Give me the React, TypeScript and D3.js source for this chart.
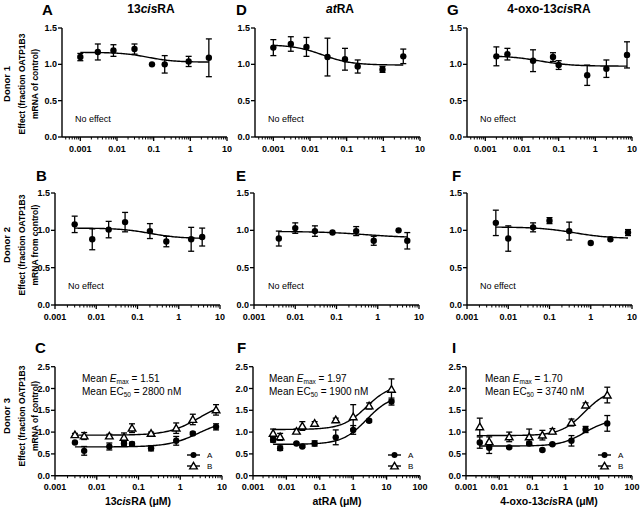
import React from 'react';
import * as d3 from 'd3';

const FONT = '"Liberation Sans", Arial, Helvetica, sans-serif';

// ---------------- Tick labels ----------------
const yTicksLow = ['0.0', '0.5', '1.0', '1.5'];
const yTicksHigh = ['0.0', '0.5', '1.0', '1.5', '2.0', '2.5'];
const xTicks10 = ['0.001', '0.01', '0.1', '1', '10'];
const xTicks100 = ['0.001', '0.01', '0.1', '1', '10', '100'];

// ---------------- Donor 1 ----------------
const aConc = [0.001, 0.003, 0.008, 0.03, 0.09, 0.2, 0.9, 3.2];
const aEffect = [1.1, 1.17, 1.19, 1.21, 1.0, 1.0, 1.04, 1.09];
const aSem = [0.05, 0.11, 0.08, 0.07, 0, 0.12, 0.07, 0.26];
const aFit = [1.165, 1.03, 0.07, 1.2]; // start, end, EC50, hill

const dConc = [0.001, 0.003, 0.008, 0.03, 0.09, 0.2, 0.95, 3.5];
const dEffect = [1.23, 1.28, 1.24, 1.1, 1.07, 0.97, 0.93, 1.11];
const dSem = [0.11, 0.1, 0.13, 0.26, 0.15, 0.09, 0.04, 0.1];
const dFit = [1.27, 0.99, 0.022, 1.1];

const gConc = [0.002, 0.004, 0.02, 0.07, 0.1, 0.6, 2, 7.3];
const gEffect = [1.11, 1.14, 1.05, 1.1, 0.99, 0.85, 0.94, 1.13];
const gSem = [0.13, 0.08, 0.15, 0.06, 0.06, 0.14, 0.12, 0.18];
const gFit = [1.12, 0.975, 0.03, 1];

// ---------------- Donor 2 ----------------
const bConc = [0.003, 0.008, 0.02, 0.05, 0.2, 0.5, 2, 3.7];
const bEffect = [1.08, 0.88, 1.01, 1.11, 0.99, 0.85, 0.88, 0.91];
const bSem = [0.11, 0.14, 0.11, 0.13, 0.1, 0.07, 0.16, 0.12];
const bFit = [1.03, 0.89, 0.2, 1.2];

const eConc = [0.004, 0.01, 0.03, 0.08, 0.3, 0.8, 3.2, 5.2];
const eEffect = [0.89, 1.03, 0.99, 0.97, 0.99, 0.86, 1.0, 0.86];
const eSem = [0.1, 0.07, 0.07, 0, 0.06, 0.06, 0, 0.11];
const eFit = [0.985, 0.9, 0.5, 0.8];

const hConc = [0.005, 0.01, 0.04, 0.1, 0.3, 1, 3, 8];
const hEffect = [1.1, 0.89, 1.04, 1.13, 0.99, 0.83, 0.88, 0.97];
const hSem = [0.17, 0.17, 0.06, 0.04, 0.12, 0, 0, 0.04];
const hFit = [1.045, 0.89, 0.4, 1];

// ---------------- Donor 3 ----------------
const cConc = [0.003, 0.005, 0.02, 0.045, 0.07, 0.2, 0.8, 2, 7.2];
const cEffectA = [0.76, 0.57, 0.67, 0.74, 0.73, 0.63, 0.8, 0.97, 1.12];
const cSemA = [0, 0.1, 0.08, 0.04, 0.04, 0.06, 0.1, 0.03, 0.07];
const cEffectB = [0.94, 0.91, 0.91, 0.88, 1.09, 0.97, 1.09, 1.29, 1.51];
const cSemB = [0.03, 0.08, 0.04, 0.1, 0.1, 0.03, 0.12, 0.12, 0.12];
const cFitA = [0.66, 1.3, 2.8, 1.2];
const cFitB = [0.93, 1.72, 2.8, 1.2];

const fConc = [0.004, 0.0065, 0.02, 0.03, 0.07, 0.3, 1, 3, 14];
const fEffectA = [0.82, 0.63, 0.74, 0.67, 0.74, 0.88, 1.05, 1.26, 1.7];
const fSemA = [0.05, 0.05, 0.02, 0.02, 0.06, 0.17, 0.1, 0.03, 0.08];
const fEffectB = [0.97, 0.89, 1.02, 1.14, 1.2, 1.28, 1.35, 1.6, 1.98];
const fSemB = [0.1, 0.08, 0.05, 0.1, 0.04, 0.04, 0.28, 0.07, 0.24];
const fFitA = [0.72, 1.85, 2.5, 1.2];
const fFitB = [1.06, 2.1, 2.5, 1.2];

const iConc = [0.0026, 0.005, 0.02, 0.08, 0.2, 0.4, 1.5, 4, 18];
const iEffectA = [0.76, 0.64, 0.65, 0.74, 0.59, 0.72, 0.8, 1.06, 1.2];
const iSemA = [0.13, 0.13, 0.02, 0.03, 0.02, 0.02, 0.12, 0.07, 0.18];
const iEffectB = [1.12, 0.78, 0.89, 0.89, 0.93, 1.02, 1.22, 1.62, 1.85];
const iSemB = [0.2, 0.11, 0.11, 0.18, 0.11, 0.06, 0.08, 0.05, 0.18];
const iFitA = [0.68, 1.3, 3.74, 1.2];
const iFitB = [0.92, 2.0, 3.74, 1.2];

const statsC = ['1.51', '2800'];
const statsF = ['1.97', '1900'];
const statsI = ['1.70', '3740'];

function hill(fit: number[], x: number) {
  const [y0, y1, ec, h] = fit;
  return y0 + (y1 - y0) / (1 + Math.pow(ec / x, h));
}

type Series = { conc: number[]; eff: number[]; sem: number[]; fit: number[]; marker: 'circle' | 'triangle' };

type PanelProps = {
  left: number; right: number; top: number; bottom: number;
  xMin: number; xMax: number; yMax: number;
  xLabels: string[]; yLabels: string[];
  series: Series[];
};

const TRI_SIZE = 25;

function Panel(p: PanelProps) {
  const x = d3.scaleLog().domain([p.xMin, p.xMax]).range([p.left, p.right]);
  const y = d3.scaleLinear().domain([0, p.yMax]).range([p.bottom, p.top]);
  const eMin = Math.floor(Math.log10(p.xMin));
  const eMax = Math.ceil(Math.log10(p.xMax));
  const minors: number[] = [];
  for (let e = eMin; e < eMax; e++) {
    for (let m = 2; m <= 9; m++) {
      const v = m * Math.pow(10, e);
      if (v >= p.xMin * 0.999 && v <= p.xMax * 1.001) minors.push(v);
    }
  }
  const majors = p.xLabels.map((t) => +t);
  const yVals = p.yLabels.map((t) => +t);
  const line = d3.line<[number, number]>().x((d) => x(d[0])).y((d) => y(d[1]));
  const tri = d3.symbol().type(d3.symbolTriangle).size(TRI_SIZE)();
  return (
    <g>
      <line x1={p.left} x2={p.right} y1={p.bottom} y2={p.bottom} stroke="#000" strokeWidth={1.4} />
      <line x1={p.left} x2={p.left} y1={p.top} y2={p.bottom} stroke="#000" strokeWidth={1.4} />
      {yVals.map((v, i) => (
        <g key={'y' + i}>
          <line x1={p.left - 4} x2={p.left} y1={y(v)} y2={y(v)} stroke="#000" strokeWidth={1.3} />
          <text x={p.left - 5} y={y(v)} dy="0.35em" textAnchor="end" fontSize={9} fontWeight="bold">{p.yLabels[i]}</text>
        </g>
      ))}
      {minors.map((v, i) => (
        <line key={'m' + i} x1={x(v)} x2={x(v)} y1={p.bottom} y2={p.bottom + 2.5} stroke="#000" strokeWidth={1} />
      ))}
      {majors.map((v, i) => (
        <g key={'x' + i}>
          <line x1={x(v)} x2={x(v)} y1={p.bottom} y2={p.bottom + 4} stroke="#000" strokeWidth={1.3} />
          <text x={x(v)} y={p.bottom + 14.5} textAnchor="middle" fontSize={9} fontWeight="bold">{p.xLabels[i]}</text>
        </g>
      ))}
      {p.series.map((s, si) => {
        const lo = s.conc[0];
        const hi = s.conc[s.conc.length - 1];
        const pts: [number, number][] = d3.range(0, 101).map((k) => {
          const xv = lo * Math.pow(hi / lo, k / 100);
          return [xv, hill(s.fit, xv)];
        });
        return (
          <g key={'s' + si}>
            <path d={line(pts) || ''} fill="none" stroke="#000" strokeWidth={1.4} />
            {s.conc.map((c, i) =>
              s.sem[i] > 0 ? (
                <g key={'e' + i} stroke="#000" strokeWidth={1.3}>
                  <line x1={x(c)} x2={x(c)} y1={y(s.eff[i] - s.sem[i])} y2={y(s.eff[i] + s.sem[i])} />
                  <line x1={x(c) - 3} x2={x(c) + 3} y1={y(s.eff[i] - s.sem[i])} y2={y(s.eff[i] - s.sem[i])} />
                  <line x1={x(c) - 3} x2={x(c) + 3} y1={y(s.eff[i] + s.sem[i])} y2={y(s.eff[i] + s.sem[i])} />
                </g>
              ) : null
            )}
            {s.conc.map((c, i) =>
              s.marker === 'circle' ? (
                <circle key={'p' + i} cx={x(c)} cy={y(s.eff[i])} r={3.2} fill="#000" />
              ) : (
                <path key={'p' + i} d={tri || ''} transform={`translate(${x(c)},${y(s.eff[i]) + 0.7})`} fill="#fff" stroke="#000" strokeWidth={1.4} />
              )
            )}
          </g>
        );
      })}
    </g>
  );
}

function YTitle({ cy, donor, second }: { cy: number; donor: string; second: string }) {
  return (
    <g fontWeight="bold">
      <text transform={`translate(10,${cy}) rotate(-90)`} textAnchor="middle" fontSize={9.5}>{donor}</text>
      <text transform={`translate(25,${cy}) rotate(-90)`} textAnchor="middle" fontSize={8.5}>Effect (fraction OATP1B3</text>
      <text transform={`translate(37.5,${cy}) rotate(-90)`} textAnchor="middle" fontSize={8.5}>{second}</text>
    </g>
  );
}

function Stats({ x, y, vals }: { x: number; y: number; vals: string[] }) {
  return (
    <g fontSize={10}>
      <text x={x} y={y}>
        Mean <tspan fontStyle="italic">E</tspan>
        <tspan fontSize={6.5} dy={2}>max</tspan>
        <tspan dy={-2}> = {vals[0]}</tspan>
      </text>
      <text x={x} y={y + 12.5}>
        Mean EC<tspan fontSize={6.5} dy={2}>50</tspan>
        <tspan dy={-2}> = {vals[1]} nM</tspan>
      </text>
    </g>
  );
}

function Legend({ x, y }: { x: number; y: number }) {
  const tri = d3.symbol().type(d3.symbolTriangle).size(TRI_SIZE)();
  return (
    <g>
      <line x1={x} x2={x + 13} y1={y} y2={y} stroke="#000" strokeWidth={1.4} />
      <circle cx={x + 6.5} cy={y} r={3} fill="#000" />
      <text x={x + 20} y={y} dy="0.35em" fontSize={8}>A</text>
      <line x1={x} x2={x + 13} y1={y + 11} y2={y + 11} stroke="#000" strokeWidth={1.4} />
      <path d={tri || ''} transform={`translate(${x + 6.5},${y + 11.7})`} fill="#fff" stroke="#000" strokeWidth={1.4} />
      <text x={x + 20} y={y + 11} dy="0.35em" fontSize={8}>B</text>
    </g>
  );
}

const Letter = ({ x, y, t }: { x: number; y: number; t: string }) => (
  <text x={x} y={y} fontSize={15} fontWeight="bold">{t}</text>
);

export default function App() {
  const r1 = { top: 28, bottom: 137, yMax: 1.5, yLabels: yTicksLow, xMin: Math.pow(10, -3.5), xMax: 10, xLabels: xTicks10 };
  const r2 = { top: 193, bottom: 305, yMax: 1.5, yLabels: yTicksLow, xMin: 0.001, xMax: 10, xLabels: xTicks10 };
  const r3 = { top: 366.7, bottom: 475.7, yMax: 2.5, yLabels: yTicksHigh };
  const one = (conc: number[], eff: number[], sem: number[], fit: number[]): Series[] => [
    { conc, eff, sem, fit, marker: 'circle' },
  ];
  const two = (conc: number[], ea: number[], sa: number[], fa: number[], eb: number[], sb: number[], fb: number[]): Series[] => [
    { conc, eff: ea, sem: sa, fit: fa, marker: 'circle' },
    { conc, eff: eb, sem: sb, fit: fb, marker: 'triangle' },
  ];
  return (
    <svg width={640} height={508} style={{ position: 'absolute', left: 0, top: 0, background: '#fff' }} fontFamily={FONT}>
      <rect width={640} height={508} fill="#fff" />
      <text x={151} y={12.5} textAnchor="middle" fontSize={12} fontWeight="bold">13<tspan fontStyle="italic">cis</tspan>RA</text>
      <text x={340} y={12.5} textAnchor="middle" fontSize={12} fontWeight="bold"><tspan fontStyle="italic">at</tspan>RA</text>
      <text x={549} y={12.5} textAnchor="middle" fontSize={12} fontWeight="bold">4-oxo-13<tspan fontStyle="italic">cis</tspan>RA</text>

      <Letter x={42} y={14.5} t="A" />
      <Letter x={236} y={14.5} t="D" />
      <Letter x={447} y={14.5} t="G" />
      <Letter x={36} y={181} t="B" />
      <Letter x={236} y={181} t="E" />
      <Letter x={452} y={181} t="F" />
      <Letter x={35} y={353} t="C" />
      <Letter x={237} y={353} t="F" />
      <Letter x={452} y={353} t="I" />

      <YTitle cy={84} donor="Donor 1" second="mRNA of control)" />
      <YTitle cy={245} donor="Donor 2" second="mRNA from control)" />
      <YTitle cy={416} donor="Donor 3" second="mRNA of control)" />

      <Panel {...r1} left={62} right={227} series={one(aConc, aEffect, aSem, aFit)} />
      <Panel {...r1} left={255} right={420} series={one(dConc, dEffect, dSem, dFit)} />
      <Panel {...r1} left={467} right={632} series={one(gConc, gEffect, gSem, gFit)} />

      <Panel {...r2} left={55} right={220} series={one(bConc, bEffect, bSem, bFit)} />
      <Panel {...r2} left={254} right={419} series={one(eConc, eEffect, eSem, eFit)} />
      <Panel {...r2} left={467} right={632} series={one(hConc, hEffect, hSem, hFit)} />

      <Panel {...r3} left={55} right={222} xMin={0.001} xMax={10} xLabels={xTicks10}
        series={two(cConc, cEffectA, cSemA, cFitA, cEffectB, cSemB, cFitB)} />
      <Panel {...r3} left={253} right={420} xMin={0.001} xMax={100} xLabels={xTicks100}
        series={two(fConc, fEffectA, fSemA, fFitA, fEffectB, fSemB, fFitB)} />
      <Panel {...r3} left={466} right={632} xMin={0.001} xMax={100} xLabels={xTicks100}
        series={two(iConc, iEffectA, iSemA, iFitA, iEffectB, iSemB, iFitB)} />

      {[[75, 122], [268, 122], [480, 122], [68, 289], [268, 289], [480, 289]].map(([tx, ty], i) => (
        <text key={'ne' + i} x={tx} y={ty} fontSize={9}>No effect</text>
      ))}

      <Stats x={82} y={382} vals={statsC} />
      <Stats x={269} y={382} vals={statsF} />
      <Stats x={485} y={382} vals={statsI} />

      <Legend x={187} y={455} />
      <Legend x={388} y={455} />
      <Legend x={598} y={455} />

      <text x={138} y={505} textAnchor="middle" fontSize={10.5} fontWeight="bold">13<tspan fontStyle="italic">cis</tspan>RA (μM)</text>
      <text x={337} y={505} textAnchor="middle" fontSize={10.5} fontWeight="bold">atRA (μM)</text>
      <text x={549} y={505} textAnchor="middle" fontSize={10.5} fontWeight="bold">4-oxo-13<tspan fontStyle="italic">cis</tspan>RA (μM)</text>
    </svg>
  );
}
